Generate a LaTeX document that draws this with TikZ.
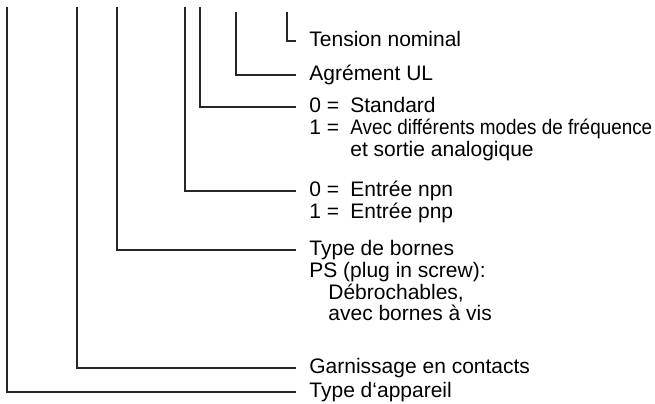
\documentclass[tikz,border=0pt]{standalone}
\usepackage{fontspec}
\setmainfont{Liberation Sans}
\usetikzlibrary{positioning}
\tikzset{
    lead/.style={line width=0.65pt,draw=black!85},
    label/.style={anchor=west,inner xsep=6.5pt,inner ysep=0pt,text height=8pt,text depth=2.5pt,font=\fontsize{10.5}{10.5}\selectfont},
    more/.style={label,inner xsep=0pt}
}
\newcommand{\eqsign}[1]{\makebox[20.5pt][l]{#1 =}}

\begin{document}
\begin{tikzpicture}[x=0.5pt,y=-0.5pt]

                \useasboundingbox (0,0) rectangle (655,403);

                \coordinate (top 1) at (7,7);
                \coordinate (top 2) at (77,7);
                \coordinate (top 3) at (117,7);
                \coordinate (top 4) at (185,7);
                \coordinate (top 5) at (200,7);
                \coordinate (top 6) at (236,12);
                \coordinate (top 7) at (287,12);

                \node[label] (tension)   at (296,41)  {Tension nominal};
                \node[label] (ul)        at (296,75)  {Agrément UL};
                \node[label] (standard)  at (296,107) {\eqsign{0}Standard};
                \node[more]  (avec)      [below right=0pt and 6.5pt of standard.south west]
                    {\eqsign{1}\scalebox{0.9}[1]{Avec différents modes de fréquence}};
                \node[more]  (sortie)    [below right=0pt and 0pt of avec.south west]
                    {\hspace*{20.5pt}et sortie analogique};
                \node[label] (npn)       at (296,191) {\eqsign{0}Entrée npn};
                \node[more]  (pnp)       [below right=0pt and 6.5pt of npn.south west] {\eqsign{1}Entrée pnp};
                \node[label] (bornes)    at (296,250) {Type de bornes};
                \node[more]  (ps)        [below right=0pt and 6.5pt of bornes.south west] {PS (plug in screw):};
                \node[more]  (debroch)   [below right=0pt and 0pt of ps.south west] {\hspace*{9.5pt}Débrochables,};
                \node[more]  (vis)       [below right=0pt and 0pt of debroch.south west] {\hspace*{9.5pt}avec bornes à vis};
                \node[label] (contacts)  at (296,368) {Garnissage en contacts};
                \node[label] (appareil)  at (296,392) {Type d‘appareil};

                \draw[lead] (top 7) |- (tension.west);
                \draw[lead] (top 6) |- (ul.west);
                \draw[lead] (top 5) |- (standard.west);
                \draw[lead] (top 4) |- (npn.west);
                \draw[lead] (top 3) |- (bornes.west);
                \draw[lead] (top 2) |- (contacts.west);
                \draw[lead] (top 1) |- (appareil.west);

            \end{tikzpicture}
\end{document}
